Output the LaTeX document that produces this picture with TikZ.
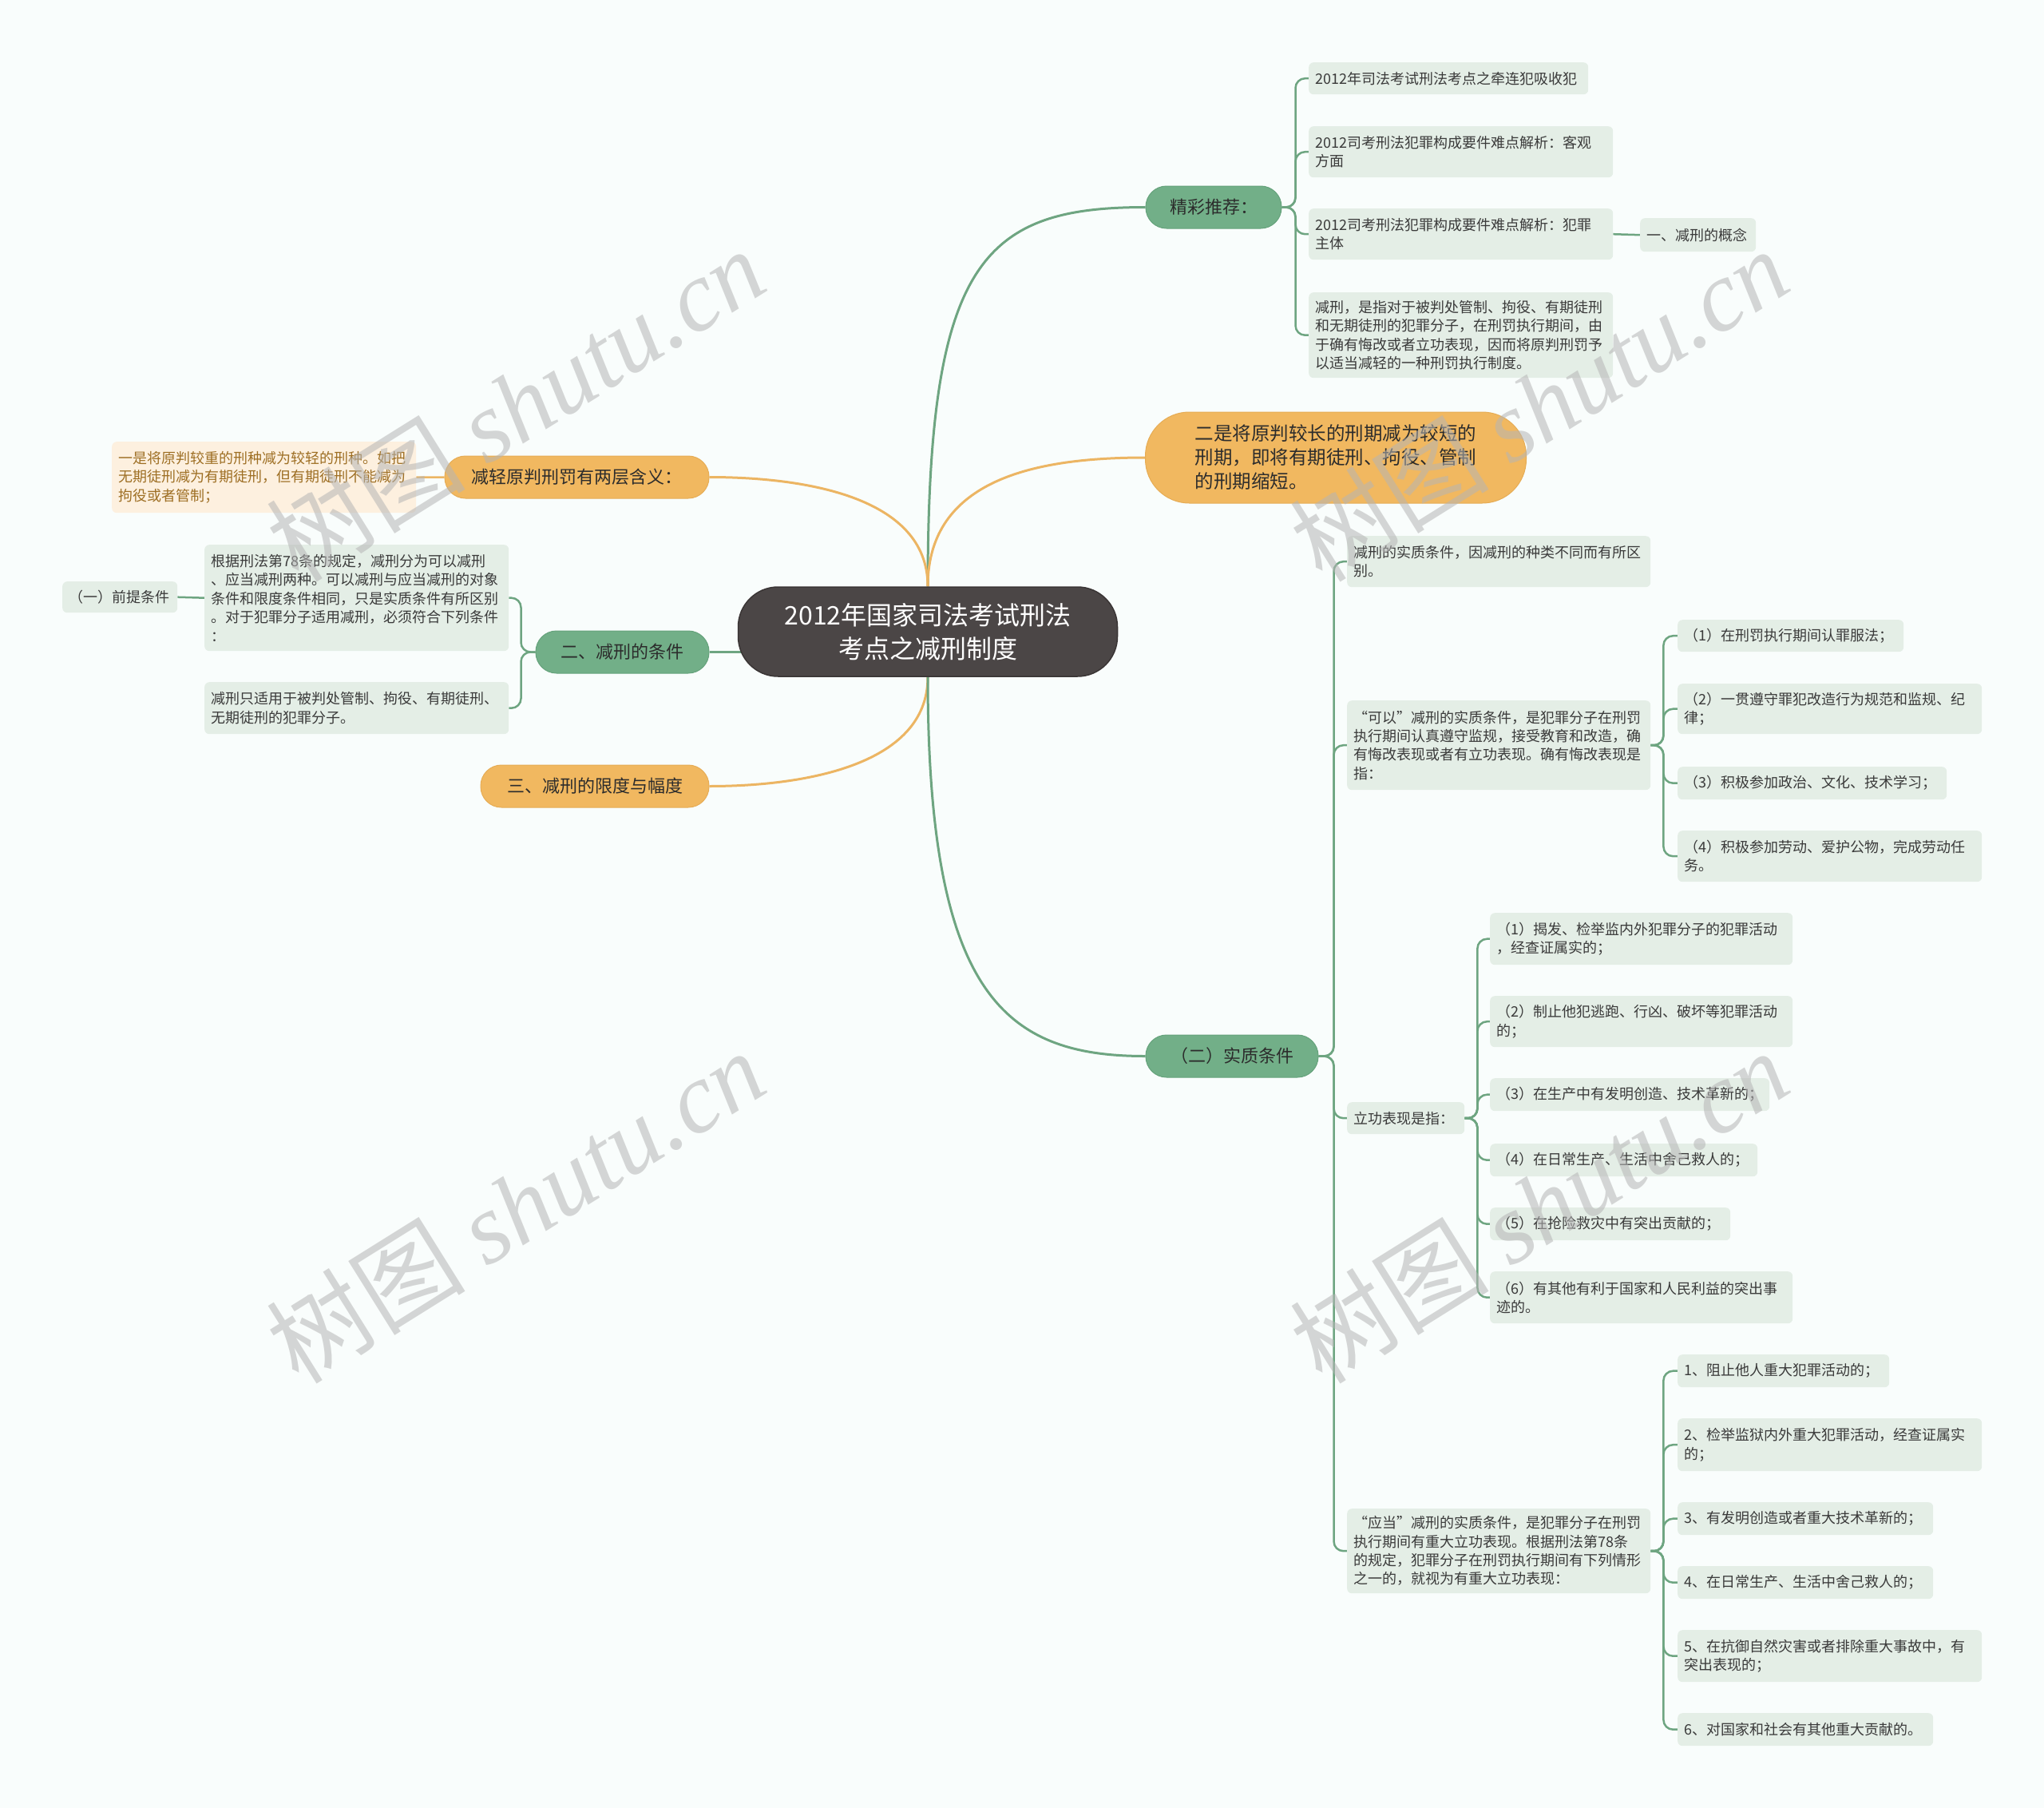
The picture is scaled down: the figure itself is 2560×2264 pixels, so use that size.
\documentclass[tikz,border=0pt]{standalone}
\usepackage{fontspec}
\usetikzlibrary{backgrounds}
\setmainfont{Noto Sans CJK SC}
\newfontfamily\wmlatin{Liberation Serif}
\definecolor{bgc}{HTML}{F9FDFC}
\definecolor{rootc}{HTML}{4B4646}
\definecolor{rootb}{HTML}{3A3535}
\definecolor{greenc}{HTML}{72AF88}
\definecolor{greenb}{HTML}{65A27B}
\definecolor{orangec}{HTML}{F1B860}
\definecolor{orangeb}{HTML}{E6AC55}
\definecolor{leafc}{HTML}{E4EEE6}
\definecolor{leaft}{HTML}{3A3A3A}
\definecolor{pillt}{HTML}{2C2C2C}
\definecolor{lorc}{HTML}{FDF0DF}
\definecolor{lort}{HTML}{9E6F24}
\definecolor{gline}{HTML}{6EA581}
\definecolor{oline}{HTML}{ECB563}
\definecolor{wmc}{HTML}{B5B5B5}
\tikzset{
  leafbox/.style={fill=leafc, rounded corners=6pt, inner xsep=8pt, inner ysep=0pt,
    anchor=north west, align=left, text=leaft, font=\fontsize{18}{23.4}\selectfont},
  lorbox/.style={leafbox, fill=lorc, text=lort},
  gpill/.style={fill=greenc, draw=greenb, line width=1pt, rounded corners=26pt, inner sep=0pt,
    minimum height=53pt, text=pillt, font=\fontsize{22}{28}\selectfont},
  opill/.style={gpill, fill=orangec, draw=orangeb},
  gcon/.style={draw=gline, line width=3pt},
  ocon/.style={draw=oline, line width=3pt},
  gbr/.style={draw=gline, line width=2.5pt, rounded corners=12pt},
  obr/.style={draw=oline, line width=2.5pt},
  wm/.style={text=wmc, opacity=0.55, rotate=32, font=\fontsize{125}{130}\selectfont}
}
\begin{document}
\begin{tikzpicture}[x=1pt,y=-1pt]
\useasboundingbox (0,0) rectangle (2560,2264);

% root
\node[fill=rootc, draw=rootb, line width=1.5pt, rounded corners=50pt, minimum width=475pt,
  minimum height=112pt, text=white, align=center, font=\fontsize{32}{42}\selectfont]
  (root) at (1162,791) {2012年国家司法考试刑法\\考点之减刑制度};

% main branches
\node[gpill, minimum width=170pt] (jx) at (1520,259.5) {精彩推荐：};
\node[opill, minimum width=477pt, minimum height=114pt, rounded corners=55pt, align=left,
  font=\fontsize{23.5}{30}\selectfont] (big) at (1673,573)
  {二是将原判较长的刑期减为较短的\\刑期，即将有期徒刑、拘役、管制\\的刑期缩短。};
\node[gpill, minimum width=216pt] (sz) at (1543,1322.5) {（二）实质条件};
\node[opill, minimum width=331pt] (jq) at (722.5,597.5) {减轻原判刑罚有两层含义：};
\node[gpill, minimum width=217pt] (tj) at (779.5,816.5) {二、减刑的条件};
\node[opill, minimum width=286pt] (xd) at (745,984.5) {三、减刑的限度与幅度};

% 精彩推荐 children
\node[leafbox, minimum height=40pt, text width=334pt] (a) at (1639,78) {2012年司法考试刑法考点之牵连犯吸收犯};
\node[leafbox, minimum height=64pt, text width=365pt] (b) at (1639,158) {2012司考刑法犯罪构成要件难点解析：客观\\方面};
\node[leafbox, minimum height=64pt, text width=365pt] (c) at (1639,261) {2012司考刑法犯罪构成要件难点解析：犯罪\\主体};
\node[leafbox, minimum height=42pt, text width=129pt] (d) at (2054,273) {一、减刑的概念};
\node[leafbox, minimum height=107pt, text width=365pt] (e) at (1639,366) {减刑，是指对于被判处管制、拘役、有期徒刑\\和无期徒刑的犯罪分子，在刑罚执行期间，由\\于确有悔改或者立功表现，因而将原判刑罚予\\以适当减轻的一种刑罚执行制度。};

% 实质条件 children
\node[leafbox, minimum height=64pt, text width=364pt] (f) at (1687,671) {减刑的实质条件，因减刑的种类不同而有所区\\别。};
\node[leafbox, minimum height=112pt, text width=364pt] (g) at (1687,877) {“可以”减刑的实质条件，是犯罪分子在刑罚\\执行期间认真遵守监规，接受教育和改造，确\\有悔改表现或者有立功表现。确有悔改表现是\\指：};
\node[leafbox, minimum height=40pt, text width=131pt] (h) at (1687,1380) {立功表现是指：};
\node[leafbox, minimum height=106pt, text width=364pt] (i) at (1687,1889) {“应当”减刑的实质条件，是犯罪分子在刑罚\\执行期间有重大立功表现。根据刑法第78条\\的规定，犯罪分子在刑罚执行期间有下列情形\\之一的，就视为有重大立功表现：};

\node[leafbox, minimum height=40pt, text width=267pt] (g1) at (2101,776) {（1）在刑罚执行期间认罪服法；};
\node[leafbox, minimum height=63pt, text width=365pt] (g2) at (2101,856) {（2）一贯遵守罪犯改造行为规范和监规、纪\\律；};
\node[leafbox, minimum height=41pt, text width=321pt] (g3) at (2101,960) {（3）积极参加政治、文化、技术学习；};
\node[leafbox, minimum height=64pt, text width=365pt] (g4) at (2101,1040) {（4）积极参加劳动、爱护公物，完成劳动任\\务。};

\node[leafbox, minimum height=65pt, text width=363pt] (h1) at (1866,1143) {（1）揭发、检举监内外犯罪分子的犯罪活动\\，经查证属实的；};
\node[leafbox, minimum height=64pt, text width=363pt] (h2) at (1866,1247) {（2）制止他犯逃跑、行凶、破坏等犯罪活动\\的；};
\node[leafbox, minimum height=41pt, text width=334pt] (h3) at (1866,1350) {（3）在生产中有发明创造、技术革新的；};
\node[leafbox, minimum height=41pt, text width=319pt] (h4) at (1866,1432) {（4）在日常生产、生活中舍己救人的；};
\node[leafbox, minimum height=41pt, text width=285pt] (h5) at (1866,1512) {（5）在抢险救灾中有突出贡献的；};
\node[leafbox, minimum height=65pt, text width=363pt] (h6) at (1866,1592) {（6）有其他有利于国家和人民利益的突出事\\迹的。};

\node[leafbox, minimum height=41pt, text width=249pt] (i1) at (2101,1696) {1、阻止他人重大犯罪活动的；};
\node[leafbox, minimum height=66pt, text width=365pt] (i2) at (2101,1776) {2、检举监狱内外重大犯罪活动，经查证属实\\的；};
\node[leafbox, minimum height=41pt, text width=304pt] (i3) at (2101,1881) {3、有发明创造或者重大技术革新的；};
\node[leafbox, minimum height=41pt, text width=304pt] (i4) at (2101,1961) {4、在日常生产、生活中舍己救人的；};
\node[leafbox, minimum height=65pt, text width=365pt] (i5) at (2101,2041) {5、在抗御自然灾害或者排除重大事故中，有\\突出表现的；};
\node[leafbox, minimum height=41pt, text width=304pt] (i6) at (2101,2145) {6、对国家和社会有其他重大贡献的。};

% left side
\node[lorbox, minimum height=89pt, text width=365pt] (j) at (140,553) {一是将原判较重的刑种减为较轻的刑种。如把\\无期徒刑减为有期徒刑，但有期徒刑不能减为\\拘役或者管制；};
\node[leafbox, minimum height=133pt, text width=365pt] (k) at (256,682) {根据刑法第78条的规定，减刑分为可以减刑\\、应当减刑两种。可以减刑与应当减刑的对象\\条件和限度条件相同，只是实质条件有所区别\\。对于犯罪分子适用减刑，必须符合下列条件\\：};
\node[leafbox, minimum height=65pt, text width=365pt] (l) at (256,854) {减刑只适用于被判处管制、拘役、有期徒刑、\\无期徒刑的犯罪分子。};
\node[leafbox, minimum height=39pt, text width=128pt] (m) at (78,728) {（一）前提条件};

\begin{scope}[on background layer]
\fill[bgc] (0,0) rectangle (2560,2264);
% root connectors
\draw[gcon] (root.north) .. controls +(0,-405) and +(-205,0) .. (jx.west);
\draw[ocon] (root.north) .. controls +(0,-135) and +(-135,0) .. (big.west);
\draw[ocon] (root.north) .. controls +(0,-115) and +(112,0) .. (jq.east);
\draw[gcon] (tj.east) -- (tj.east -| root.center);
\draw[ocon] (root.south) .. controls +(0,113) and +(112,0) .. (xd.east);
\draw[gcon] (root.south) .. controls +(0,400) and +(-175,0) .. (sz.west);

% brackets
\foreach \ch in {a,b,c,e} \draw[gbr] (jx.east) -- ++(17,0) |- (\ch.west);
\draw[gbr] (c.east) -- (d.west);
\foreach \ch in {f,g,h,i} \draw[gbr] (sz.east) -- ++(19,0) |- (\ch.west);
\foreach \ch in {g1,g2,g3,g4} \draw[gbr] (g.east) -- ++(16,0) |- (\ch.west);
\foreach \ch in {h1,h2,h3,h4,h5,h6} \draw[gbr] (h.east) -- ++(16,0) |- (\ch.west);
\foreach \ch in {i1,i2,i3,i4,i5,i6} \draw[gbr] (i.east) -- ++(16,0) |- (\ch.west);
\foreach \ch in {k,l} \draw[gbr] (tj.west) -- ++(-18,0) |- (\ch.east);
\draw[gbr] (k.west) -- (m.east);
\draw[obr] (jq.west) -- (j.east);
\end{scope}

% watermarks
\node[wm] (w1) at (645,506) {树图 {\wmlatin\itshape shutu.cn}};
\node[wm] (w2) at (645,1510) {树图 {\wmlatin\itshape shutu.cn}};
\node[wm] (w3) at (1927,506) {树图 {\wmlatin\itshape shutu.cn}};
\node[wm] (w4) at (1927,1510) {树图 {\wmlatin\itshape shutu.cn}};
\end{tikzpicture}
\end{document}
